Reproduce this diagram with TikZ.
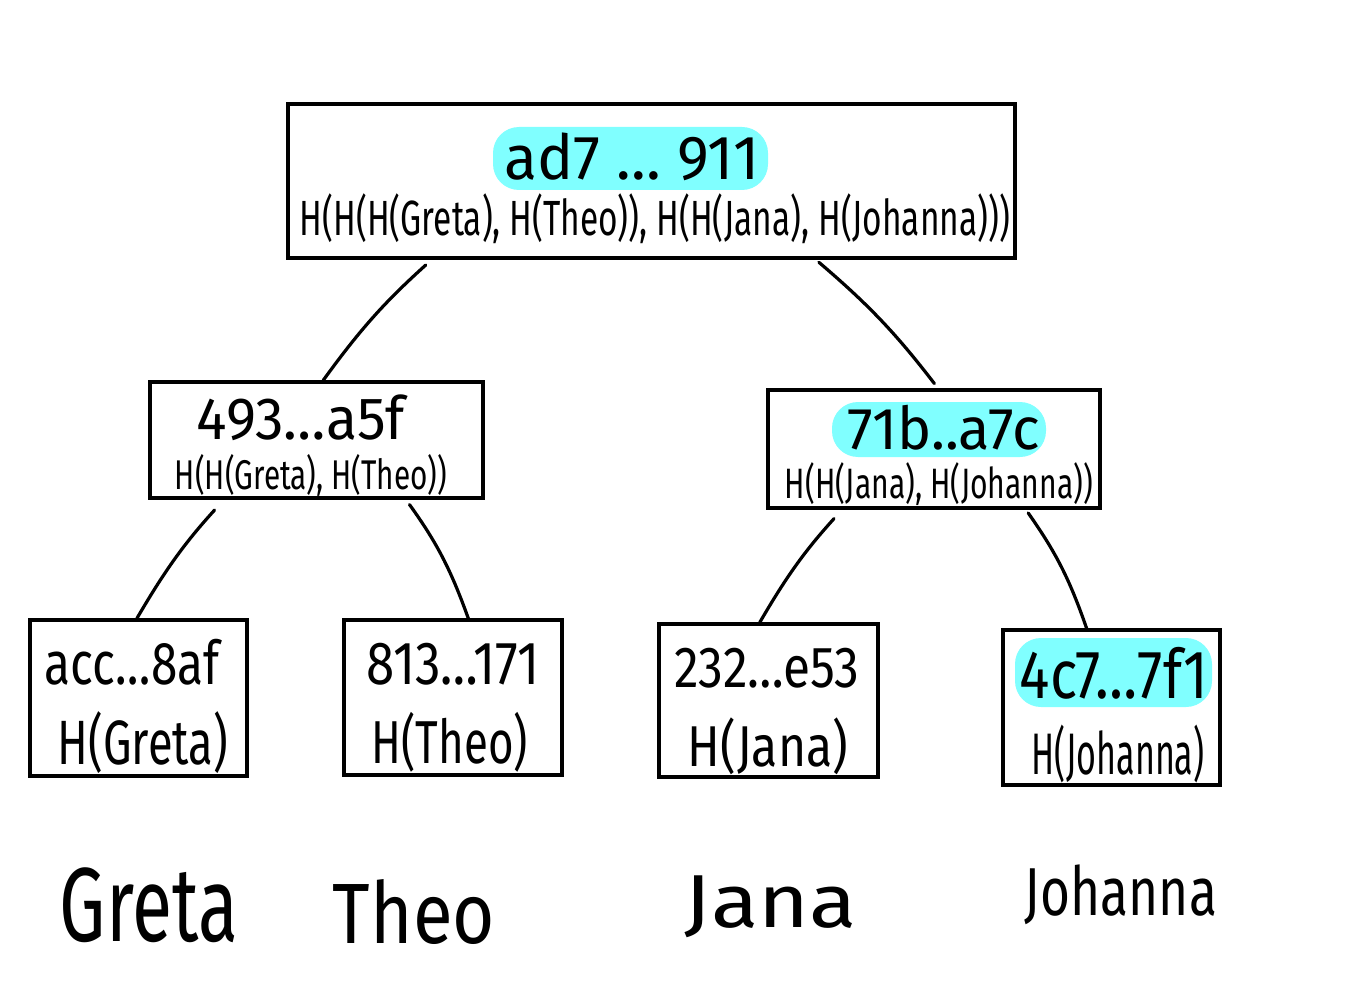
\documentclass[tikz,border=0pt]{standalone}
\usepackage{fontspec}
\usepackage{graphicx}
\setmainfont{Fira Sans}
\usetikzlibrary{calc}
\definecolor{hl}{HTML}{80FFFF}
\newcommand\fitt[3]{\resizebox*{#1pt}{#2pt}{#3}}
\begin{document}
\begin{tikzpicture}[x=1pt,y=-1pt,
  box/.style={draw, line width=3.4pt, inner sep=0pt},
  lab/.style={inner sep=0pt},
  hlbox/.style={fill=hl, draw=none, rounded corners=26pt, inner sep=0pt},
  edge/.style={line width=3.2pt, line cap=round}]
\fill[white] (0,0) rectangle (1371,1000);
\useasboundingbox (0,0) rectangle (1371,1000);
% highlights
\node[hlbox, minimum width=275pt, minimum height=63pt] (hlroot) at (630.5,158.5) {};
\node[hlbox, minimum width=214pt, minimum height=55pt] (hlright) at (939,429.5) {};
\node[hlbox, minimum width=197pt, minimum height=69pt] (hljo) at (1113.5,672.5) {};
% boxes
\node[box, minimum width=727pt, minimum height=154pt] (root) at (651.5,181) {};
\node[box, minimum width=333pt, minimum height=116pt] (left) at (316.5,440) {};
\node[box, minimum width=332pt, minimum height=118pt] (right) at (934,449) {};
\node[box, minimum width=217pt, minimum height=156pt] (leafG) at (138.5,698) {};
\node[box, minimum width=218pt, minimum height=155pt] (leafT) at (453,697.5) {};
\node[box, minimum width=219pt, minimum height=153pt] (leafJ) at (768.5,700.5) {};
\node[box, minimum width=217pt, minimum height=155pt] (leafJo) at (1111.5,707.5) {};
% texts
\node[lab] (rhash) at (632,157) {\fitt{255}{48}{ad7 … 911}};
\node[lab] (rform) at (655,219) {\fitt{710}{50}{H(H(H(Greta), H(Theo)), H(H(Jana), H(Johanna)))}};
\node[lab] (lhash) at (301,418) {\fitt{208}{46}{493…a5f}};
\node[lab] (lform) at (311,475) {\fitt{272}{42}{H(H(Greta), H(Theo))}};
\node[lab] (rrhash) at (944,428) {\fitt{192}{45}{71b..a7c}};
\node[lab] (rrform) at (939,484) {\fitt{308}{43}{H(H(Jana), H(Johanna))}};
\node[lab] (gh) at (132,662) {\fitt{175}{46}{acc…8af}};
\node[lab] (gf) at (143,743) {\fitt{170}{62}{H(Greta)}};
\node[lab] (th) at (453,664) {\fitt{173}{42}{813…171}};
\node[lab] (tf) at (450,742) {\fitt{156}{60}{H(Theo)}};
\node[lab] (jh) at (767,668) {\fitt{185}{40}{232…e53}};
\node[lab] (jf) at (768,746) {\fitt{160}{57}{H(Jana)}};
\node[lab] (joh) at (1114,673) {\fitt{188}{52}{4c7…7f1}};
\node[lab] (jof) at (1118,754) {\fitt{173}{58}{H(Johanna)}};
\node[lab] (nG) at (149,905) {\fitt{178}{75}{Greta}};
\node[lab] (nT) at (414,912) {\fitt{162}{65}{Theo}};
\node[lab] (nJ) at (771,907) {\fitt{172}{62}{Jana}};
\node[lab] (nJo) at (1121,895) {\fitt{192}{60}{Johanna}};
% connectors
\draw[edge, shorten <=8pt] ($(root.south west)!0.199!(root.south east)$) to[bend right=6] ($(left.north west)!0.52!(left.north east)$);
\draw[edge, shorten <=4pt, shorten >=6pt] ($(root.south west)!0.725!(root.south east)$) to[bend left=6] ($(right.north west)!0.512!(right.north east)$);
\draw[edge, shorten <=14pt] ($(left.south west)!0.225!(left.south east)$) to[bend right=6] ($(leafG.north west)!0.493!(leafG.north east)$);
\draw[edge, shorten <=6pt] ($(left.south west)!0.766!(left.south east)$) to[bend left=8] ($(leafT.north west)!0.569!(leafT.north east)$);
\draw[edge, shorten <=12pt] ($(right.south west)!0.226!(right.south east)$) to[bend right=6] ($(leafJ.north west)!0.461!(leafJ.north east)$);
\draw[edge, shorten <=4pt] ($(right.south west)!0.774!(right.south east)$) to[bend left=8] ($(leafJo.north west)!0.387!(leafJo.north east)$);
\end{tikzpicture}
\end{document}
